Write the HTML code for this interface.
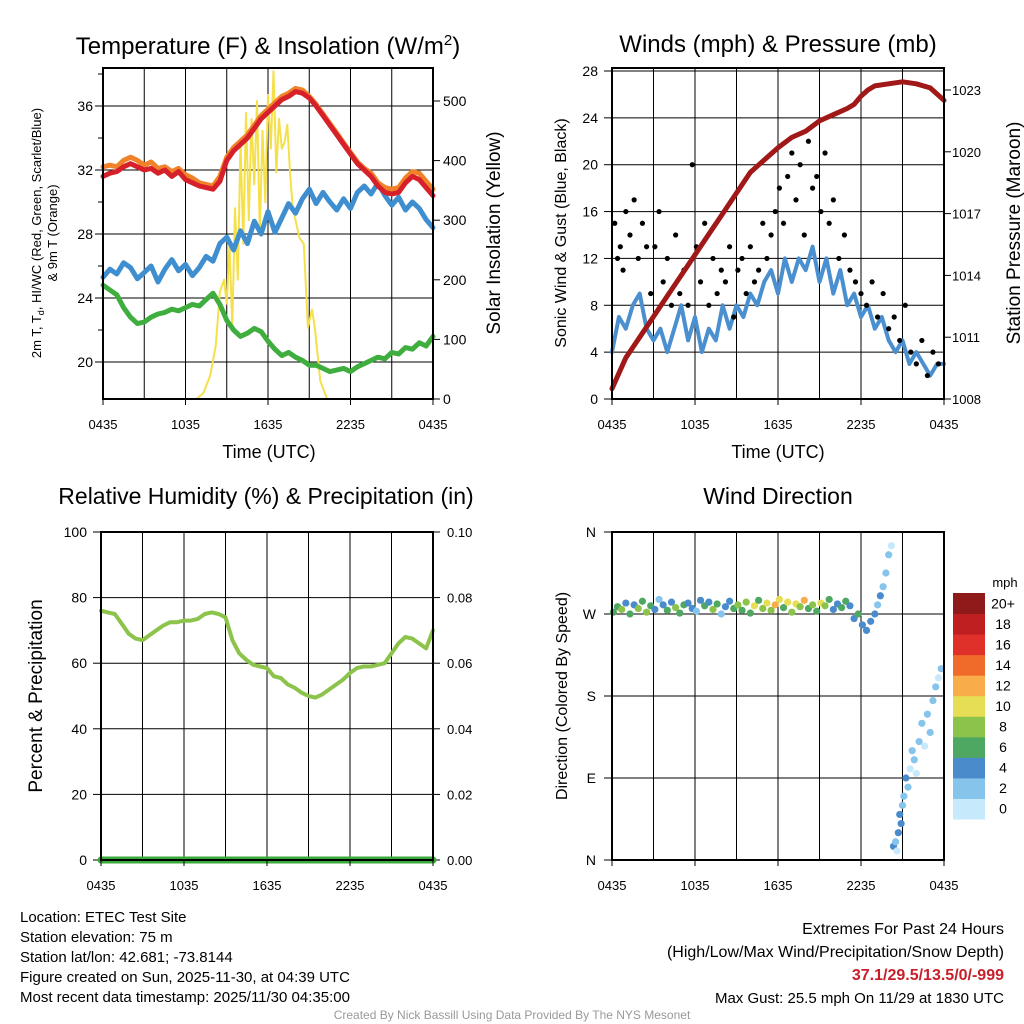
<!DOCTYPE html>
<html><head><meta charset="utf-8"><style>
body{margin:0;background:#fff;}
svg{display:block;font-family:"Liberation Sans",sans-serif;}
</style></head><body>
<svg id="c" width="1024" height="1024" viewBox="0 0 1024 1024" xmlns="http://www.w3.org/2000/svg">
<rect width="1024" height="1024" fill="#fff"/>
</svg>
<script>
// ---- data ----
const tTime=[0,0.5,1,1.5,2,2.5,3,3.5,4,4.5,5,5.5,6,6.5,7,7.5,8,8.5,9,9.5,10,10.5,11,11.5,12,12.5,13,13.5,14,14.5,15,15.5,16,16.5,17,17.5,18,18.5,19,19.5,20,20.5,21,21.5,22,22.5,23,23.5,24];
const tempRed=[31.6,31.8,31.9,32.2,32.4,32.2,32.0,32.1,31.8,32.0,31.6,31.9,31.4,31.2,31.0,30.9,30.8,31.3,32.6,33.2,33.6,34.0,34.6,35.2,35.6,36.0,36.4,36.6,36.9,36.8,36.5,36.0,35.4,34.8,34.2,33.6,33.0,32.4,32.0,31.6,31.0,30.6,30.5,30.6,31.2,31.6,31.4,30.9,30.4];
const temp9m=[32.2,32.3,32.2,32.6,32.8,32.6,32.3,32.5,32.1,32.2,31.9,32.1,31.7,31.5,31.2,31.1,31.0,31.6,32.8,33.4,33.8,34.2,34.8,35.4,35.8,36.2,36.6,36.8,37.1,37.0,36.6,36.1,35.5,34.9,34.3,33.7,33.1,32.5,32.1,31.8,31.2,30.9,30.8,30.9,31.5,31.9,31.8,31.3,30.8];
const dewBlue=[25.3,25.8,25.5,26.2,25.9,25.2,25.6,26.0,25.0,25.8,26.4,25.7,26.1,25.4,25.9,26.6,26.3,27.4,27.8,27.0,28.2,27.4,28.8,28.0,29.4,28.1,29.0,29.9,29.3,30.2,30.8,29.9,30.6,30.0,29.5,30.2,29.6,30.6,31.0,30.5,31.2,30.4,29.8,30.3,29.5,30.0,29.6,28.9,28.4];
const hiGreen=[24.8,24.5,24.2,23.4,22.8,22.4,22.5,22.8,23.0,23.1,23.3,23.2,23.4,23.6,23.5,23.9,24.3,23.6,22.6,22.0,21.6,21.8,22.1,21.9,21.3,20.8,20.4,20.6,20.3,20.1,19.8,19.8,19.6,19.4,19.5,19.6,19.4,19.7,19.9,20.1,20.3,20.2,20.6,20.5,20.9,20.8,21.2,21.0,21.6];
const solTime=[0,6.8,7.3,7.8,8.2,8.5,8.8,9.0,9.2,9.4,9.6,9.8,10.0,10.2,10.4,10.6,10.8,11.0,11.2,11.4,11.6,11.8,12.0,12.2,12.4,12.6,12.8,13.0,13.2,13.4,13.6,13.8,14.0,14.3,14.6,14.9,15.2,15.4,15.8,16.3,24];
const solar=[0,0,10,40,90,180,200,160,260,120,320,200,430,260,480,300,470,360,500,280,450,330,510,420,550,380,470,420,430,460,380,320,300,270,260,120,150,120,30,0,0];
const wTime=[0,0.5,1,1.5,2,2.5,3,3.5,4,4.5,5,5.5,6,6.5,7,7.5,8,8.5,9,9.5,10,10.5,11,11.5,12,12.5,13,13.5,14,14.5,15,15.5,16,16.5,17,17.5,18,18.5,19,19.5,20,20.5,21,21.5,22,22.5,23,23.5,24];
const sonic=[4,7,6,8,9,6,5,6,4,6,8,5,7,4,6,5,8,6,8,7,9,8,10,11,9,12,10,12,11,13,10,12,9,11,8,9,7,8,6,7,5,4,5,3,4,3,2,3,3];
const pTime=[0,1,2,3,4,5,6,7,8,9,10,11,12,13,14,15,16,17,17.5,18,18.5,19,20,21,22,23,24];
const pressure=[1008.5,1010,1011,1012,1013,1014,1015,1016,1017,1018,1019,1019.6,1020.2,1020.7,1021,1021.5,1021.8,1022.1,1022.3,1022.7,1023,1023.2,1023.3,1023.4,1023.3,1023.1,1022.5];
const gustTime=[0.2,0.4,0.6,0.8,1.0,1.3,1.6,1.9,2.2,2.5,2.8,3.1,3.4,3.7,4.0,4.3,4.6,4.9,5.2,5.5,5.8,6.1,6.4,6.7,7.0,7.3,7.6,7.9,8.2,8.5,8.8,9.1,9.4,9.7,10.0,10.3,10.6,10.9,11.2,11.5,11.8,12.1,12.4,12.7,13.0,13.3,13.6,13.9,14.2,14.5,14.8,15.1,15.4,15.7,16.0,16.4,16.8,17.2,17.6,18.0,18.4,18.8,19.2,19.6,20.0,20.4,20.8,21.2,21.6,22.0,22.4,22.8,23.2,23.6];
const gust=[15,12,13,11,16,14,17,12,15,13,9,13,16,10,12,8,14,9,11,8,20,13,10,15,8,12,9,11,10,13,7,11,12,9,13,10,11,15,12,14,16,18,15,19,21,17,20,14,22,18,19,16,21,15,17,12,14,11,10,9,8,10,7,9,6,7,5,8,4,3,5,2,4,3];
const dirTime=[0.1,0.4,0.7,1.0,1.3,1.6,1.9,2.2,2.5,2.8,3.1,3.4,3.7,4.0,4.3,4.6,4.9,5.2,5.5,5.8,6.1,6.4,6.7,7.0,7.3,7.6,7.9,8.2,8.5,8.8,9.1,9.4,9.7,10.0,10.3,10.6,10.9,11.2,11.5,11.8,12.1,12.4,12.7,13.0,13.3,13.6,13.9,14.2,14.5,14.8,15.1,15.4,15.7,16.0,16.3,16.6,16.9,17.2,17.5,17.8,18.1,18.4,18.7,19.0,19.2,19.4,19.6,19.8,20.0,20.2,20.35,20.5,20.6,20.7,20.8,20.9,21.0,21.1,21.25,21.4,21.55,21.7,21.85,22.0,22.2,22.4,22.6,22.8,23.0,23.2,23.4,23.6,23.8];
const dirDeg=[272,278,275,282,270,280,276,284,272,279,275,286,280,274,283,277,271,280,282,276,273,285,279,283,275,281,270,278,284,276,280,274,283,271,279,285,276,282,274,280,286,277,283,272,281,278,285,276,280,273,282,279,286,275,281,277,284,279,265,270,258,252,262,270,280,290,300,315,335,345,15,20,10,30,50,40,60,70,90,80,100,120,110,95,130,150,125,160,140,175,190,200,210];
const dirSpd=[7,6,9,5,7,4,8,7,9,6,5,3,5,7,4,9,6,7,4,5,3,4,7,5,8,6,3,4,5,7,8,6,9,7,10,6,8,11,9,12,10,7,11,9,10,8,12,7,9,6,10,8,6,5,4,6,7,5,4,6,5,4,4,4,3,4,3,2,3,1,4,3,1,4,4,5,2,3,4,3,1,2,3,1,2,3,1,2,3,2,2,1,3];
const rhTime=[0,0.5,1,1.5,2,2.5,3,3.5,4,4.5,5,5.5,6,6.5,7,7.5,8,8.5,9,9.5,10,10.5,11,11.5,12,12.5,13,13.5,14,14.5,15,15.5,16,16.5,17,17.5,18,18.5,19,19.5,20,20.5,21,21.5,22,22.5,23,23.5,24];
const rh=[76,75.5,75,72,69,67.5,67,68.5,70,71.5,72.5,72.5,73,73,73.5,75,75.5,75,74,67,63,61,59.5,59,58.5,56,55.5,53.5,52.5,51,50,49.5,50.5,52,53.5,55,57,58.5,59,59,59.5,60,63,66,68,67.5,66,64.5,70];
const precip=[0,0];const precipTime=[0,24];
const cbLabels=["0","2","4","6","8","10","12","14","16","18","20+"];
const cbColors=["#c6e9fb","#86c4ec","#4a8ccb","#4fa862","#8cc34a","#e6df55","#f9ad4a","#f06a2a","#e0302a","#c01f22","#8f1a1a"];
const xTickLabels=["0435","1035","1635","2235","0435"];
// ---- helpers ----
const S=document.getElementById('c');const NS="http://www.w3.org/2000/svg";
function mk(tag,attrs,parent){const e=document.createElementNS(NS,tag);for(const k in attrs)e.setAttribute(k,attrs[k]);(parent||S).appendChild(e);return e;}
function txt(x,y,s,size,anchor,extra){const e=mk('text',Object.assign({x:x,y:y,'font-size':size,'text-anchor':anchor||'middle',fill:'#000'},extra||{}));e.textContent=s;return e;}
function lin(d0,d1,p0,p1){return v=>p0+(v-d0)/(d1-d0)*(p1-p0);}
function panel(L,T,R,B,name){
 const g=mk('g',{});
 for(let i=0;i<=8;i++){const x=L+(R-L)*i/8;mk('line',{x1:x,y1:T,x2:x,y2:B,stroke:'#000','stroke-width':1},g);}
 return g;}
function frame(L,T,R,B,g){mk('rect',{x:L,y:T,width:R-L,height:B-T,fill:'none',stroke:'#000','stroke-width':2},g);
 for(let i=0;i<5;i++){const x=L+(R-L)*i/4;const t=txt(x,B+30,xTickLabels[i],13);mk('line',{x1:x,y1:B,x2:x,y2:B+6,stroke:'#000'},g);}}
function hgrid(L,R,y,g){mk('line',{x1:L,y1:y,x2:R,y2:y,stroke:'#000','stroke-width':1},g);}
function path(xs,ys,X,Y,color,w,g,name){let d='';for(let i=0;i<xs.length;i++)d+=(i?'L':'M')+X(xs[i]).toFixed(1)+','+Y(ys[i]).toFixed(1);const p=mk('path',{d:d,fill:'none',stroke:color,'stroke-width':w,'stroke-linejoin':'round','stroke-linecap':'round'},g);return p;}
// ---- Panel 1 ----
(function(){const L=103,T=68,R=433,B=399;const g=panel(L,T,R,B,'temperature-panel');
 const X=lin(0,24,L,R),Y=lin(20,36,362,106),Y2=lin(0,500,399,101);
 [20,24,28,32,36].forEach(v=>{hgrid(L,R,Y(v),g);const t=txt(L-10,Y(v)+5,String(v),14,'end');mk('line',{x1:L-8,y1:Y(v),x2:L,y2:Y(v),stroke:'#000'},g);});
 [22,26,30,34,38].forEach(v=>mk('line',{x1:L-5,y1:Y(v),x2:L,y2:Y(v),stroke:'#000'},g));
 [0,100,200,300,400,500].forEach(v=>{const t=txt(R+10,Y2(v)+5,String(v),14,'start');mk('line',{x1:R,y1:Y2(v),x2:R+7,y2:Y2(v),stroke:'#000'},g);});
 path(solTime,solar,X,Y2,'#f5e04a',2,g,'solar-line');
 path(tTime,hiGreen,X,Y,'#3fae3f',5,g,'hi-wc-line');
 path(tTime,dewBlue,X,Y,'#3f8fd0',5,g,'dewpoint-line');
 path(tTime,temp9m,X,Y,'#f0822a',5,g,'temp-9m-line');
 path(tTime,tempRed,X,Y,'#d6202a',5,g,'temp-2m-line');
 frame(L,T,R,B,g);
 const ti=txt(268,54,'',24);ti.innerHTML='Temperature (F) &amp; Insolation (W/m<tspan dy="-9" font-size="15">2</tspan><tspan dy="9">)</tspan>';
 const a=txt(269,458,'Time (UTC)',18);
 const y1=txt(0,0,'2m T, T',13,'middle',{transform:'translate(41,233) rotate(-90)'});y1.innerHTML='2m T, T<tspan font-size="9" dy="3">d</tspan><tspan dy="-3">, HI/WC (Red, Green, Scarlet/Blue)</tspan>';
 const y1b=txt(0,0,'& 9m T (Orange)',13,'middle',{transform:'translate(57,233) rotate(-90)'});
 const y2=txt(0,0,'Solar Insolation (Yellow)',19,'middle',{transform:'translate(500,233) rotate(-90)'});
})();
// ---- Panel 2 ----
(function(){const L=612,T=68,R=944,B=399;const g=panel(L,T,R,B,'winds-panel');
 const X=lin(0,24,L,R),Y=lin(0,28,399,71),Y2=lin(1008,1023,399,90);
 [0,4,8,12,16,20,24,28].forEach(v=>{hgrid(L,R,Y(v),g);const t=txt(L-14,Y(v)+5,String(v),14,'end');mk('line',{x1:L-8,y1:Y(v),x2:L,y2:Y(v),stroke:'#000'},g);});
 [1008,1011,1014,1017,1020,1023].forEach(v=>{const t=txt(R+8,Y2(v)+5,String(v),13,'start');mk('line',{x1:R,y1:Y2(v),x2:R+7,y2:Y2(v),stroke:'#000'},g);});
 path(wTime,sonic,X,Y,'#4a8fd0',4,g,'sonic-wind-line');
 for(let i=0;i<gustTime.length;i++){const c=mk('circle',{cx:X(gustTime[i]),cy:Y(gust[i]),r:2.6,fill:'#000'},g);}
 path(pTime,pressure,X,Y2,'#a01818',5,g,'pressure-line');
 frame(L,T,R,B,g);
 const ti=txt(778,52,'Winds (mph) & Pressure (mb)',24);
 const a=txt(778,458,'Time (UTC)',18);
 const y1=txt(0,0,'Sonic Wind & Gust (Blue, Black)',16,'middle',{transform:'translate(566,233) rotate(-90)'});
 const y2=txt(0,0,'Station Pressure (Maroon)',19,'middle',{transform:'translate(1020,233) rotate(-90)'});
})();
// ---- Panel 3 ----
(function(){const L=101,T=532,R=433,B=860;const g=panel(L,T,R,B,'humidity-panel');
 const X=lin(0,24,L,R),Y=lin(0,100,B,T),Y2=lin(0,0.1,B,T);
 [0,20,40,60,80,100].forEach(v=>{hgrid(L,R,Y(v),g);const t=txt(L-14,Y(v)+5,String(v),14,'end');mk('line',{x1:L-8,y1:Y(v),x2:L,y2:Y(v),stroke:'#000'},g);
  const t2=txt(R+14,Y(v)+5,(v/1000).toFixed(2),13,'start');mk('line',{x1:R,y1:Y(v),x2:R+7,y2:Y(v),stroke:'#000'},g);});
 path(rhTime,rh,X,Y,'#8cc34a',4,g,'rh-line');
 path(precipTime,precip,X,Y2,'#3aa83a',7,g,'precip-line');
 frame(L,T,R,B,g);
 const ti=txt(266,504,'Relative Humidity (%) & Precipitation (in)',23);
 const y1=txt(0,0,'Percent & Precipitation',19,'middle',{transform:'translate(42,696) rotate(-90)'});
})();
// ---- Panel 4 ----
(function(){const L=612,T=532,R=944,B=860;const g=panel(L,T,R,B,'wind-direction-panel');
 const X=lin(0,24,L,R),Y=lin(0,360,B,T);
 const lab=['N','E','S','W','N'];
 [0,90,180,270,360].forEach((v,i)=>{hgrid(L,R,Y(v),g);const t=txt(L-16,Y(v)+5,lab[i],14,'end');mk('line',{x1:L-8,y1:Y(v),x2:L,y2:Y(v),stroke:'#000'},g);});
 for(let i=0;i<dirTime.length;i++){const ci=Math.min(10,Math.floor(dirSpd[i]/2));const c=mk('circle',{cx:X(dirTime[i]),cy:Y(dirDeg[i]),r:3.6,fill:cbColors[ci]},g);}
 frame(L,T,R,B,g);
 const ti=txt(778,504,'Wind Direction',23);
 const y1=txt(0,0,'Direction (Colored By Speed)',16,'middle',{transform:'translate(567,696) rotate(-90)'});
 const cb=mk('g',{});
 const h=226/11;
 for(let i=0;i<11;i++){const y=819-(i+1)*h;mk('rect',{x:953,y:y,width:32,height:h+0.5,fill:cbColors[i]},cb);const t=txt(1003,y+h/2+5,cbLabels[i],14);}
 const m=txt(1005,587,'mph',13);
})();
// ---- footer ----
const info=["Location: ETEC Test Site","Station elevation: 75 m","Station lat/lon: 42.681; -73.8144","Figure created on Sun, 2025-11-30, at 04:39 UTC","Most recent data timestamp: 2025/11/30 04:35:00"];
info.forEach((s,i)=>{const t=txt(20,922+i*20,s,15,'start');});
const ex=["Extremes For Past 24 Hours","(High/Low/Max Wind/Precipitation/Snow Depth)"];
ex.forEach((s,i)=>{const t=txt(1004,934+i*23,s,16,'end');});
const ev=txt(1004,980,'37.1/29.5/13.5/0/-999',16,'end',{fill:'#c8202a','font-weight':'bold'});
const mg=txt(1004,1003,'Max Gust: 25.5 mph On 11/29 at 1830 UTC',15,'end');
const cr=txt(512,1019,'Created By Nick Bassill Using Data Provided By The NYS Mesonet',12,'middle',{fill:'#999'});
</script>
</body></html>
